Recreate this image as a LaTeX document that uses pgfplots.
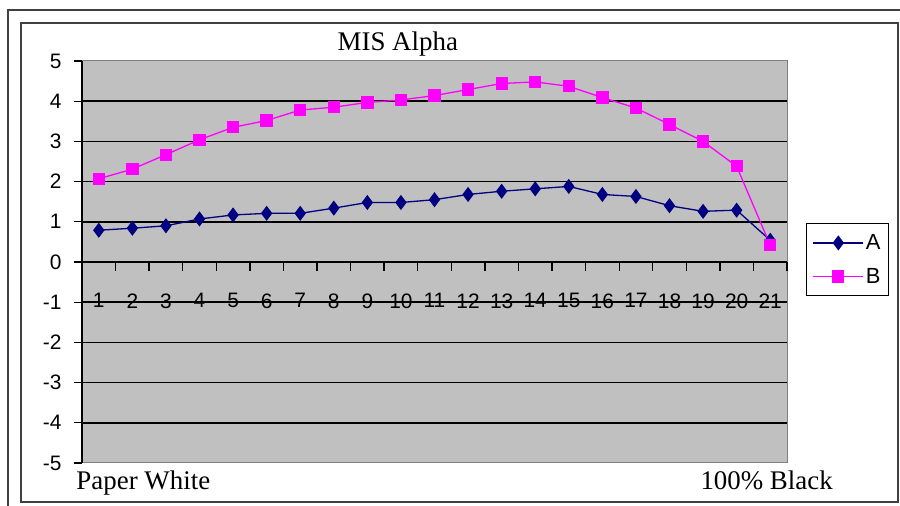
\documentclass[border=0pt]{standalone}
\usepackage{pgfplots}
\pgfplotsset{compat=1.18}
\usepackage{pgfplotstable}
\usepackage{fontspec}
\setmainfont{Liberation Serif}
\newfontfamily\sansfont{Liberation Sans}

\definecolor{plotgray}{HTML}{C0C0C0}
\definecolor{seriesA}{HTML}{000080}
\definecolor{seriesB}{HTML}{FF00FF}
\definecolor{framegray}{HTML}{404040}

% step, series A, series B
\pgfplotstableread{
x  A     B
1  0.79  2.07
2  0.84  2.31
3  0.90  2.67
4  1.07  3.04
5  1.17  3.35
6  1.21  3.52
7  1.21  3.78
8  1.34  3.85
9  1.48  3.97
10 1.48  4.03
11 1.55  4.14
12 1.68  4.29
13 1.76  4.44
14 1.82  4.48
15 1.88  4.37
16 1.68  4.09
17 1.63  3.83
18 1.40  3.42
19 1.26  3.00
20 1.29  2.38
21 0.54  0.42
}\datatable

\begin{document}
\begin{tikzpicture}[x=1bp,y=1bp]
\useasboundingbox (0,0) rectangle (900,506);
\draw[framegray, line width=2bp] (8,0) -- (8,496) -- (900,496);
\draw[framegray, line width=2bp] (21,4) rectangle (898,483);
\begin{axis}[
  at={(82bp,43bp)}, anchor=south west,
  scale only axis, width=705bp, height=402bp,
  xmin=0.5, xmax=21.5, ymin=-5, ymax=5,
  clip=false,
  axis x line=middle, axis y line=left,
  hide obscured x ticks=false, hide obscured y ticks=false,
  axis line style={-, black, line width=1.5bp},
  axis background/.style={fill=plotgray, draw=gray, line width=1bp},
  /pgf/number format/assume math mode=true,
  ytick={-5,-4,...,5},
  yticklabels={-5,-4,-3,-2,-1,0,1,2,3,4,5},
  extra y ticks={-4,-3,...,4},
  extra y tick labels={},
  extra y tick style={ymajorgrids=true},
  major grid style={black, line width=1.5bp},
  xtick={1,...,21},
  minor xtick={1.5,2.5,...,21.5},
  every major x tick/.append style={draw=none},
  tick align=outside,
  xtick align=outside,
  major tick length=8bp,
  minor tick length=9bp,
  tick style={black, line width=1.3bp},
  yticklabel style={font=\sansfont\fontsize{21}{24}\selectfont, xshift=-9bp},
  xticklabel style={font=\sansfont\fontsize{21}{24}\selectfont, yshift=-20bp},
  title={MIS Alpha},
  title style={at={(0.448,1)}, anchor=base, yshift=5bp, font=\fontsize{27}{30}\selectfont},
  legend style={at={(1.027,0.597)}, anchor=north west, draw=black, line width=1.3bp,
    fill=white, font=\sansfont\fontsize{22}{26}\selectfont,
    inner xsep=6bp, inner ysep=9bp, row sep=13bp,
    /tikz/every even column/.append style={column sep=8bp}},
  legend cell align=left,
  legend image code/.code={\draw[mark repeat=2, mark phase=2, #1] plot coordinates {(0bp,0bp) (25bp,0bp) (50bp,0bp)};},
]
\addplot[seriesA, line width=1.3bp, mark=diamond*, mark size=6.5bp, mark options={solid}] table[x=x, y=A] {\datatable};
\addlegendentry{A}
\addplot[seriesB, line width=1.3bp, mark=square*, mark size=5.5bp, mark options={solid}] table[x=x, y=B] {\datatable};
\addlegendentry{B}
\node[anchor=base west, font=\fontsize{27}{30}\selectfont] at (rel axis cs:-0.0128,-0.0647) {Paper White};
\node[anchor=base west, font=\fontsize{27}{30}\selectfont] at (rel axis cs:0.8723,-0.0647) {100\% Black};
\end{axis}
\end{tikzpicture}
\end{document}
